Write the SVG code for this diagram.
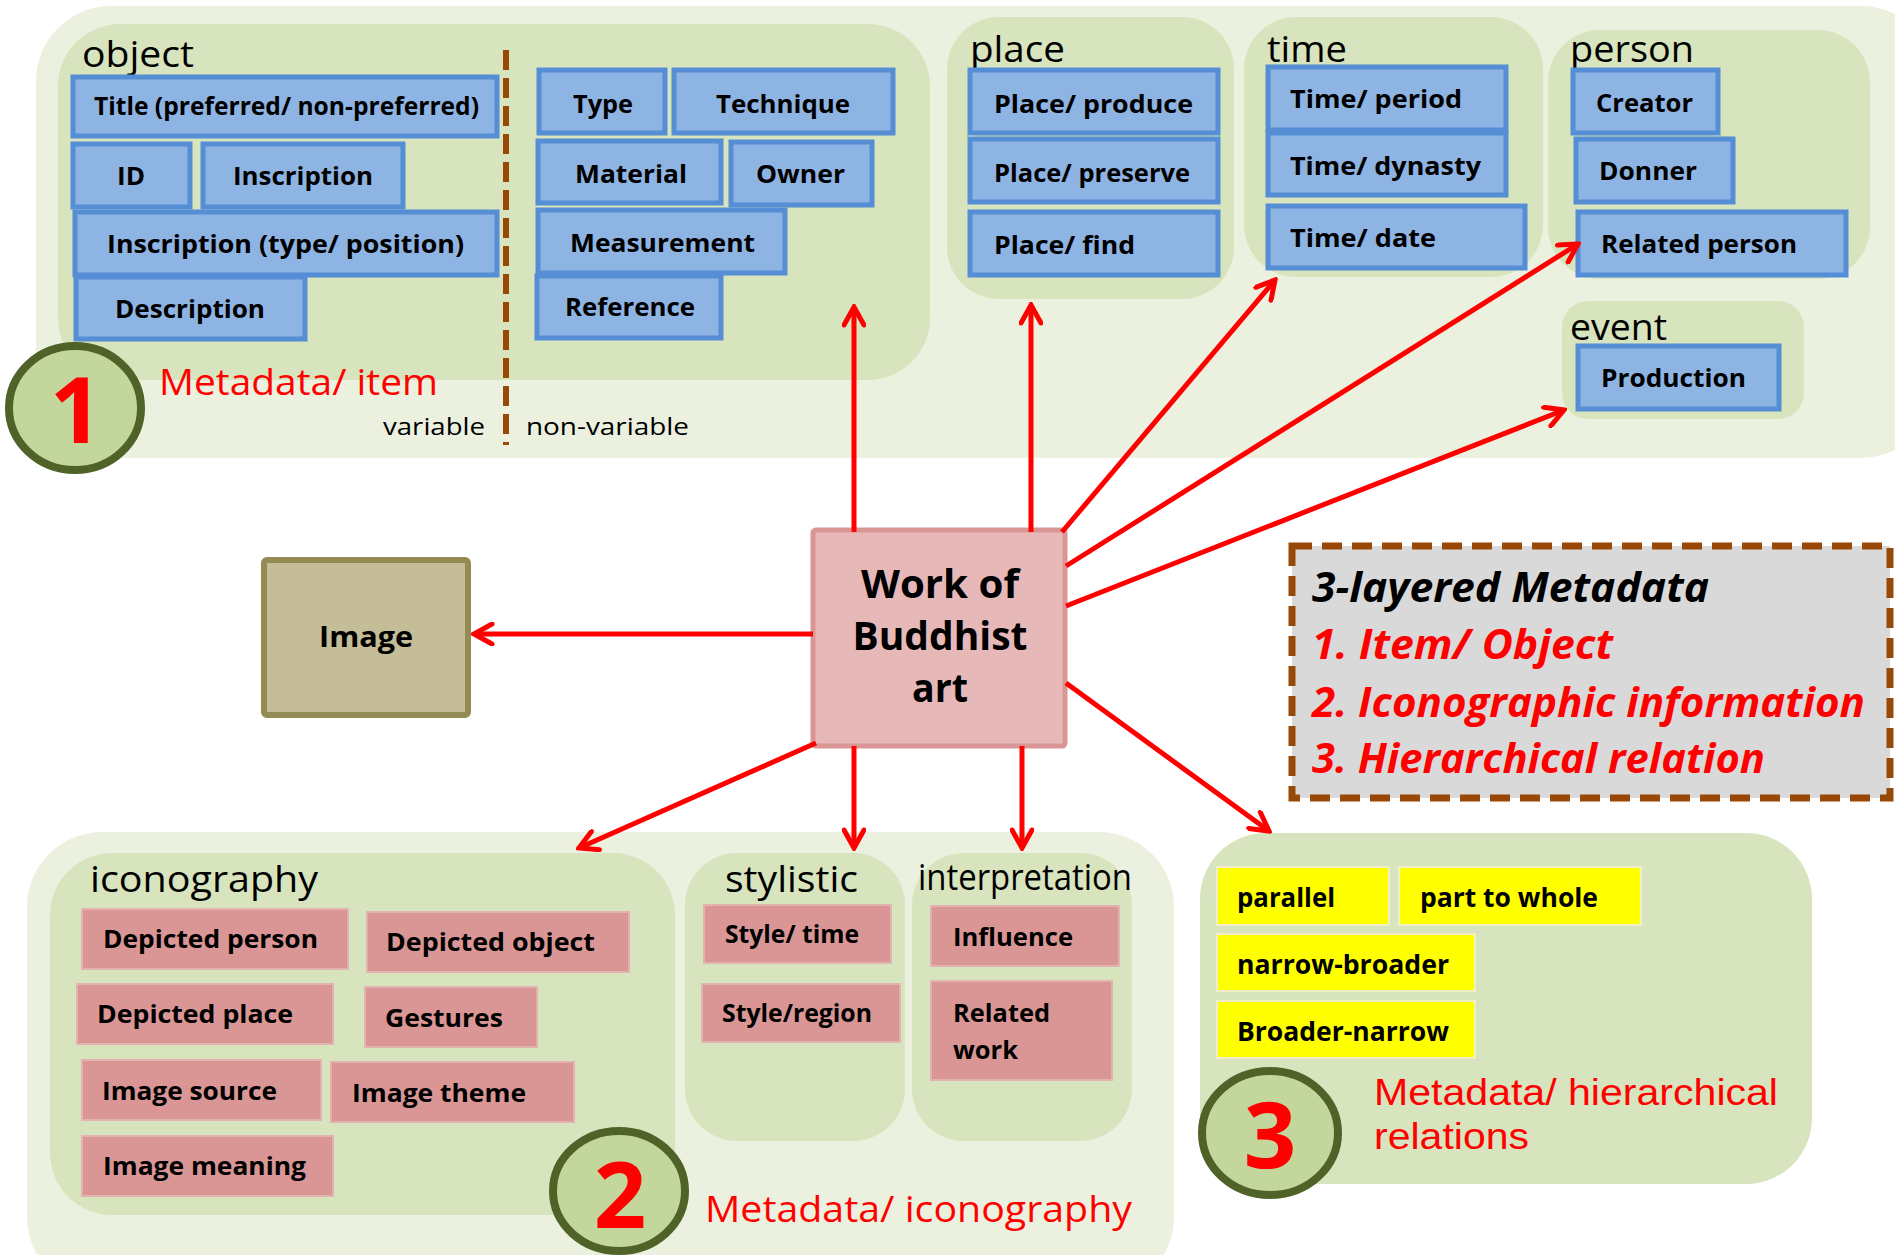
<svg xmlns="http://www.w3.org/2000/svg" width="1895" height="1255" viewBox="0 0 1895 1255">
<defs>
<marker id="ah" viewBox="0 0 24 24" refX="21" refY="12" markerWidth="24" markerHeight="24" orient="auto" markerUnits="userSpaceOnUse">
<path d="M3,2 L21,12 L3,22" fill="none" stroke="#FF0000" stroke-width="5" stroke-linecap="round" stroke-linejoin="miter"/>
</marker>
<style>
text{font-family:"Open Sans","Noto Sans","Liberation Sans",sans-serif}
.outer{fill:#EBF1DE}
.inner{fill:#D7E4BD}
.blue{fill:#8EB4E3;stroke:#558ED5;stroke-width:5}
.pink{fill:#D99694;stroke:#E3B3B1;stroke-width:2}
.yel{fill:#FFFF00;stroke:#F0F0C8;stroke-width:2}
.bt{font-weight:bold;font-size:25px;fill:#000}
.lab{font-size:36px;fill:#000}
.red{font-size:36px;fill:#FF0000}
.red2{font-family:"Liberation Sans",Arial,sans-serif;font-size:36px;fill:#FF0000}
.small{font-size:24px;fill:#000}
.num{font-weight:bold;font-size:92px;fill:#FF0000;text-anchor:middle}
.circ{fill:#C3D69B;stroke:#4F6228;stroke-width:8}
.yt{font-weight:bold;font-size:27px;fill:#000}
.leg{font-weight:bold;font-style:italic;font-size:42px}
.conn line{stroke:#FF0000;stroke-width:5;marker-end:url(#ah)}
</style>
</defs>
<rect width="1895" height="1255" fill="#FFFFFF"/>

<!-- Layer 1 -->
<g id="layer1">
<rect class="outer" x="36" y="6" width="1900" height="452" rx="75"/>
<g id="object-group">
<rect class="inner" x="58" y="24" width="872" height="356" rx="62"/>
<text class="lab" x="82" y="67" textLength="112" lengthAdjust="spacingAndGlyphs">object</text>
<line x1="506" y1="50" x2="506" y2="445" stroke="#984807" stroke-width="6" stroke-dasharray="20 8"/>
<g id="n-title"><rect class="blue" x="73" y="77" width="424" height="59"/><text class="bt" x="94" y="115" textLength="385" lengthAdjust="spacingAndGlyphs">Title (preferred/ non-preferred)</text></g>
<g id="n-id"><rect class="blue" x="73" y="144" width="117" height="63"/><text class="bt" x="117" y="185" textLength="28" lengthAdjust="spacingAndGlyphs">ID</text></g>
<g id="n-inscription"><rect class="blue" x="203" y="144" width="200" height="63"/><text class="bt" x="233" y="185" textLength="140" lengthAdjust="spacingAndGlyphs">Inscription</text></g>
<g id="n-inscription-tp"><rect class="blue" x="75" y="212" width="422" height="63"/><text class="bt" x="107" y="253" textLength="357" lengthAdjust="spacingAndGlyphs">Inscription (type/ position)</text></g>
<g id="n-description"><rect class="blue" x="76" y="277" width="229" height="62"/><text class="bt" x="115" y="318" textLength="150" lengthAdjust="spacingAndGlyphs">Description</text></g>
<g id="n-type"><rect class="blue" x="539" y="70" width="126" height="63"/><text class="bt" x="573" y="113" textLength="60" lengthAdjust="spacingAndGlyphs">Type</text></g>
<g id="n-technique"><rect class="blue" x="674" y="70" width="219" height="63"/><text class="bt" x="716" y="113" textLength="134" lengthAdjust="spacingAndGlyphs">Technique</text></g>
<g id="n-material"><rect class="blue" x="538" y="141" width="183" height="62"/><text class="bt" x="575" y="183" textLength="112" lengthAdjust="spacingAndGlyphs">Material</text></g>
<g id="n-owner"><rect class="blue" x="731" y="142" width="141" height="63"/><text class="bt" x="756" y="183" textLength="89" lengthAdjust="spacingAndGlyphs">Owner</text></g>
<g id="n-measurement"><rect class="blue" x="538" y="210" width="247" height="63"/><text class="bt" x="570" y="252" textLength="185" lengthAdjust="spacingAndGlyphs">Measurement</text></g>
<g id="n-reference"><rect class="blue" x="537" y="276" width="184" height="62"/><text class="bt" x="565" y="316" textLength="130" lengthAdjust="spacingAndGlyphs">Reference</text></g>
</g>
<g id="place-group">
<rect class="inner" x="947" y="17" width="287" height="282" rx="52"/>
<text class="lab" x="970" y="62" textLength="95" lengthAdjust="spacingAndGlyphs">place</text>
<g id="n-place-produce"><rect class="blue" x="970" y="70" width="248" height="63"/><text class="bt" x="994" y="113" textLength="199" lengthAdjust="spacingAndGlyphs">Place/ produce</text></g>
<g id="n-place-preserve"><rect class="blue" x="970" y="139" width="248" height="63"/><text class="bt" x="994" y="182" textLength="196" lengthAdjust="spacingAndGlyphs">Place/ preserve</text></g>
<g id="n-place-find"><rect class="blue" x="970" y="212" width="248" height="63"/><text class="bt" x="994" y="254" textLength="141" lengthAdjust="spacingAndGlyphs">Place/ find</text></g>
</g>
<g id="time-group">
<rect class="inner" x="1244" y="17" width="299" height="260" rx="52"/>
<text class="lab" x="1267" y="62" textLength="80" lengthAdjust="spacingAndGlyphs">time</text>
<g id="n-time-period"><rect class="blue" x="1268" y="67" width="238" height="63"/><text class="bt" x="1290" y="108" textLength="172" lengthAdjust="spacingAndGlyphs">Time/ period</text></g>
<g id="n-time-dynasty"><rect class="blue" x="1268" y="133" width="238" height="62"/><text class="bt" x="1290" y="175" textLength="191" lengthAdjust="spacingAndGlyphs">Time/ dynasty</text></g>
<g id="n-time-date"><rect class="blue" x="1268" y="206" width="257" height="62"/><text class="bt" x="1290" y="247" textLength="146" lengthAdjust="spacingAndGlyphs">Time/ date</text></g>
</g>
<g id="person-group">
<rect class="inner" x="1548" y="30" width="322" height="249" rx="52"/>
<text class="lab" x="1570" y="62" textLength="124" lengthAdjust="spacingAndGlyphs">person</text>
<g id="n-creator"><rect class="blue" x="1573" y="70" width="145" height="63"/><text class="bt" x="1596" y="112" textLength="97" lengthAdjust="spacingAndGlyphs">Creator</text></g>
<g id="n-donner"><rect class="blue" x="1576" y="139" width="157" height="63"/><text class="bt" x="1599" y="180" textLength="98" lengthAdjust="spacingAndGlyphs">Donner</text></g>
<g id="n-related-person"><rect class="blue" x="1578" y="212" width="268" height="63"/><text class="bt" x="1601" y="253" textLength="196" lengthAdjust="spacingAndGlyphs">Related person</text></g>
</g>
<g id="event-group">
<rect class="inner" x="1562" y="301" width="242" height="118" rx="26"/>
<text class="lab" x="1570" y="340" textLength="97" lengthAdjust="spacingAndGlyphs">event</text>
<g id="n-production"><rect class="blue" x="1578" y="346" width="201" height="63"/><text class="bt" x="1601" y="387" textLength="145" lengthAdjust="spacingAndGlyphs">Production</text></g>
</g>
<text class="red" x="159" y="395" textLength="279" lengthAdjust="spacingAndGlyphs">Metadata/ item</text>
<text class="small" x="383" y="435" textLength="102" lengthAdjust="spacingAndGlyphs">variable</text>
<text class="small" x="526" y="435" textLength="163" lengthAdjust="spacingAndGlyphs">non-variable</text>
<g id="badge1"><ellipse class="circ" cx="75" cy="408" rx="66" ry="62"/><text class="num" x="76" y="443">1</text></g>
</g>

<!-- Layer 2 -->
<g id="layer2">
<rect class="outer" x="27" y="832" width="1147" height="460" rx="75"/>
<g id="iconography-group">
<rect class="inner" x="50" y="853" width="625" height="362" rx="62"/>
<text class="lab" x="90" y="892" textLength="228" lengthAdjust="spacingAndGlyphs">iconography</text>
<g id="n-depicted-person"><rect class="pink" x="82" y="909" width="266" height="60"/><text class="bt" x="103" y="948" textLength="215" lengthAdjust="spacingAndGlyphs">Depicted person</text></g>
<g id="n-depicted-object"><rect class="pink" x="367" y="912" width="262" height="60"/><text class="bt" x="386" y="951" textLength="209" lengthAdjust="spacingAndGlyphs">Depicted object</text></g>
<g id="n-depicted-place"><rect class="pink" x="77" y="984" width="256" height="60"/><text class="bt" x="97" y="1023" textLength="196" lengthAdjust="spacingAndGlyphs">Depicted place</text></g>
<g id="n-gestures"><rect class="pink" x="365" y="987" width="172" height="60"/><text class="bt" x="385" y="1027" textLength="118" lengthAdjust="spacingAndGlyphs">Gestures</text></g>
<g id="n-image-source"><rect class="pink" x="82" y="1060" width="239" height="60"/><text class="bt" x="102" y="1100" textLength="175" lengthAdjust="spacingAndGlyphs">Image source</text></g>
<g id="n-image-theme"><rect class="pink" x="331" y="1062" width="243" height="60"/><text class="bt" x="352" y="1102" textLength="174" lengthAdjust="spacingAndGlyphs">Image theme</text></g>
<g id="n-image-meaning"><rect class="pink" x="82" y="1136" width="251" height="60"/><text class="bt" x="103" y="1175" textLength="203" lengthAdjust="spacingAndGlyphs">Image meaning</text></g>
</g>
<g id="stylistic-group">
<rect class="inner" x="685" y="853" width="220" height="288" rx="52"/>
<text class="lab" x="725" y="892" textLength="133" lengthAdjust="spacingAndGlyphs">stylistic</text>
<g id="n-style-time"><rect class="pink" x="704" y="905" width="187" height="58"/><text class="bt" x="725" y="943" font-size="24" textLength="134" lengthAdjust="spacingAndGlyphs">Style/ time</text></g>
<g id="n-style-region"><rect class="pink" x="702" y="984" width="198" height="58"/><text class="bt" x="722" y="1022" font-size="24" textLength="150" lengthAdjust="spacingAndGlyphs">Style/region</text></g>
</g>
<g id="interpretation-group">
<rect class="inner" x="912" y="853" width="220" height="288" rx="52"/>
<text class="lab" x="918" y="890" textLength="214" lengthAdjust="spacingAndGlyphs">interpretation</text>
<g id="n-influence"><rect class="pink" x="931" y="906" width="188" height="60"/><text class="bt" x="953" y="946" textLength="120" lengthAdjust="spacingAndGlyphs">Influence</text></g>
<g id="n-related-work"><rect class="pink" x="931" y="981" width="181" height="99"/><text class="bt" x="953" y="1022" textLength="97" lengthAdjust="spacingAndGlyphs">Related</text><text class="bt" x="953" y="1059" textLength="65" lengthAdjust="spacingAndGlyphs">work</text></g>
</g>
<g id="badge2"><ellipse class="circ" cx="619" cy="1191" rx="66" ry="60"/><text class="num" x="620" y="1228">2</text></g>
<text class="red" x="705" y="1222" textLength="427" lengthAdjust="spacingAndGlyphs">Metadata/ iconography</text>
</g>

<!-- Layer 3 -->
<g id="layer3">
<rect class="inner" x="1200" y="833" width="612" height="351" rx="66"/>
<g id="n-parallel"><rect class="yel" x="1217" y="867" width="172" height="58"/><text class="yt" x="1237" y="907" textLength="98" lengthAdjust="spacingAndGlyphs">parallel</text></g>
<g id="n-part-to-whole"><rect class="yel" x="1399" y="867" width="242" height="58"/><text class="yt" x="1420" y="907" textLength="178" lengthAdjust="spacingAndGlyphs">part to whole</text></g>
<g id="n-narrow-broader"><rect class="yel" x="1217" y="934" width="258" height="57"/><text class="yt" x="1237" y="974" textLength="212" lengthAdjust="spacingAndGlyphs">narrow-broader</text></g>
<g id="n-broader-narrow"><rect class="yel" x="1217" y="1001" width="258" height="57"/><text class="yt" x="1237" y="1041" textLength="212" lengthAdjust="spacingAndGlyphs">Broader-narrow</text></g>
<g id="badge3"><ellipse class="circ" cx="1270" cy="1133" rx="68" ry="62"/><text class="num" x="1270" y="1168">3</text></g>
<text class="red2" x="1374" y="1105" textLength="404" lengthAdjust="spacingAndGlyphs">Metadata/ hierarchical</text>
<text class="red2" x="1374" y="1149" textLength="155" lengthAdjust="spacingAndGlyphs">relations</text>
</g>

<!-- Legend -->
<g id="legend">
<rect x="1292" y="546" width="598" height="252" fill="#D9D9D9" stroke="#984807" stroke-width="7" stroke-dasharray="20 10"/>
<text class="leg" x="1312" y="602" fill="#000000" textLength="397" lengthAdjust="spacingAndGlyphs">3-layered Metadata</text>
<text class="leg" x="1312" y="659" fill="#FF0000" textLength="301" lengthAdjust="spacingAndGlyphs">1. Item/ Object</text>
<text class="leg" x="1312" y="717" fill="#FF0000" textLength="553" lengthAdjust="spacingAndGlyphs">2. Iconographic information</text>
<text class="leg" x="1312" y="773" fill="#FF0000" textLength="453" lengthAdjust="spacingAndGlyphs">3. Hierarchical relation</text>
</g>

<!-- Central nodes -->
<g id="n-image">
<rect x="264" y="560" width="204" height="155" fill="#C4BD97" stroke="#948A54" stroke-width="6" rx="3"/>
<text x="366" y="647" font-size="28" font-weight="bold" text-anchor="middle" textLength="94" lengthAdjust="spacingAndGlyphs">Image</text>
</g>
<g id="n-work">
<rect x="813" y="530" width="252" height="216" fill="#E6B9B8" stroke="#D99694" stroke-width="5" rx="3"/>
<text x="940" y="598" font-size="39" font-weight="bold" text-anchor="middle" textLength="158" lengthAdjust="spacingAndGlyphs">Work of</text>
<text x="940" y="650" font-size="39" font-weight="bold" text-anchor="middle" textLength="175" lengthAdjust="spacingAndGlyphs">Buddhist</text>
<text x="940" y="702" font-size="39" font-weight="bold" text-anchor="middle" textLength="56" lengthAdjust="spacingAndGlyphs">art</text>
</g>

<!-- Connectors -->
<g id="connectors" class="conn">
<line x1="813" y1="634" x2="474" y2="634"/>
<line x1="854" y1="532" x2="854" y2="307"/>
<line x1="1031" y1="532" x2="1031" y2="305"/>
<line x1="1062" y1="532" x2="1275" y2="280"/>
<line x1="1066" y1="566" x2="1578" y2="244"/>
<line x1="1066" y1="606" x2="1564" y2="410"/>
<line x1="1066" y1="683" x2="1269" y2="831"/>
<line x1="816" y1="743" x2="579" y2="848"/>
<line x1="854" y1="746" x2="854" y2="848"/>
<line x1="1022" y1="746" x2="1022" y2="848"/>
</g>
</svg>
